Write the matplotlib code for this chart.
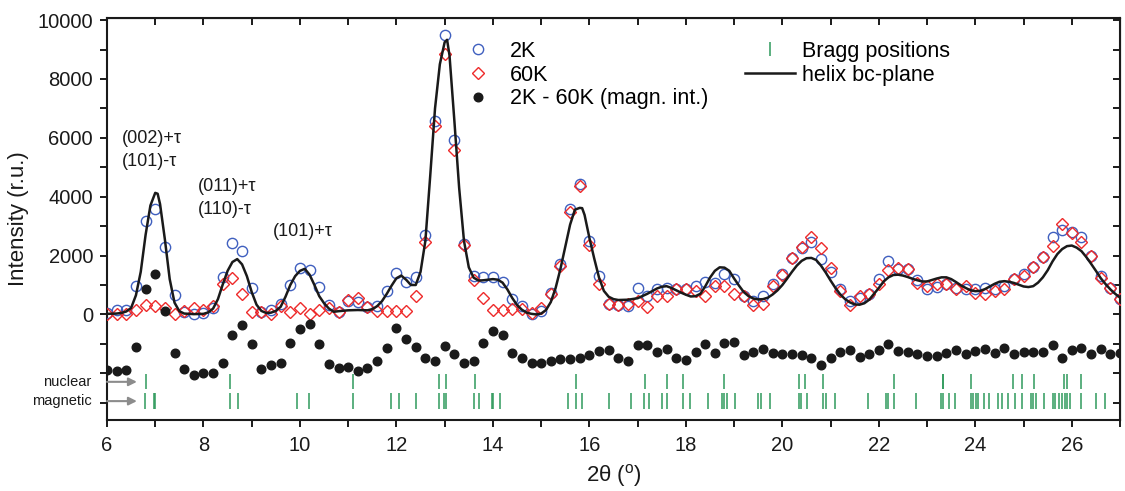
import numpy as np
import matplotlib
matplotlib.use("Agg")
import matplotlib.pyplot as plt
from matplotlib.ticker import MultipleLocator, FuncFormatter
from matplotlib.lines import Line2D
import matplotlib.transforms as mtransforms

plt.rcParams['font.family'] = ['Liberation Sans', 'DejaVu Sans']
plt.rcParams['mathtext.fontset'] = 'custom'
plt.rcParams['mathtext.rm'] = 'Liberation Sans'
plt.rcParams['mathtext.it'] = 'Liberation Sans:italic'

# scan angles, 6 to 27 deg in 0.2 deg steps
two_theta = np.round(np.linspace(6.0, 27.0, 106), 1)

i_2k = [60, 140, 140, 960, 3160, 3580, 2280, 650, 90, 10,
        40, 230, 1270, 2430, 2170, 900, 90, 150, 360, 1000,
        1590, 1500, 940, 320, 80, 470, 430, 240, 300, 780,
        1410, 1100, 1270, 2710, 6580, 9510, 5930, 2380, 1310, 1270,
        1270, 1110, 530, 280, 0, 110, 740, 1700, 3580, 4440,
        2510, 1300, 360, 320, 280, 900, 620, 870, 900, 870,
        850, 960, 1100, 1060, 1390, 1220, 620, 450, 620, 1050,
        1390, 1920, 2260, 2450, 1890, 1440, 850, 450, 570, 680,
        1190, 1830, 1550, 1530, 1160, 860, 940, 1040, 900, 850,
        850, 900, 850, 980, 1210, 1360, 1620, 1960, 2620, 2860,
        2800, 2620, 2000, 1320, 900, 510]

i_60k = [0, 30, 0, 150, 320, 270, 230, 30, 120, 230,
         150, 280, 1050, 1250, 680, 80, 70, 20, 280, 90,
         230, 0, 140, 230, 90, 490, 565, 260, 100, 120,
         120, 120, 630, 2450, 6410, 8850, 5570, 2370, 1170, 550,
         150, 140, 170, 170, 60, 230, 710, 1640, 3480, 4350,
         2350, 1040, 370, 320, 370, 450, 250, 620, 620, 850,
         850, 790, 640, 960, 960, 710, 620, 320, 340, 960,
         1330, 1920, 2280, 2630, 2240, 1580, 790, 320, 620, 680,
         1050, 1500, 1580, 1560, 1070, 960, 1020, 1040, 850, 960,
         740, 680, 790, 850, 1190, 1300, 1620, 1960, 2320, 3070,
         2750, 2450, 1980, 1240, 900, 510]

# magnetic intensity 2K - 60K, shown shifted down
i_magn = [110, 80, 110, 890, 2880, 3380, 2110, 680, 140, -70,
          0, 20, 340, 1300, 1630, 1010, 160, 280, 340, 1040,
          1510, 1660, 980, 310, 190, 220, 80, 190, 420, 870,
          1550, 1180, 900, 510, 420, 930, 670, 360, 420, 1040,
          1440, 1300, 700, 510, 340, 340, 420, 500, 500, 530,
          620, 760, 790, 510, 420, 950, 950, 720, 810, 510,
          450, 730, 980, 680, 1020, 1060, 610, 720, 840, 700,
          670, 670, 620, 510, 280, 530, 720, 780, 570, 670,
          780, 1010, 760, 720, 640, 590, 590, 680, 790, 640,
          760, 840, 700, 850, 640, 730, 720, 730, 960, 510,
          780, 850, 670, 810, 640, 680]
magn_offset = -2000

# calculated profile, helical structure in the bc-plane
calc_x = [6.0, 6.2, 6.3, 6.4, 6.5, 6.6, 6.7, 6.8, 6.9, 7.0, 7.05, 7.1, 7.2, 7.3,
          7.4, 7.5, 7.6, 7.8, 8.0, 8.1, 8.2, 8.3, 8.4, 8.5, 8.6, 8.7, 8.8, 8.9,
          9.0, 9.1, 9.2, 9.3, 9.4, 9.5, 9.6, 9.7, 9.8, 9.9, 10.0, 10.1, 10.2,
          10.3, 10.4, 10.5, 10.6, 10.7, 10.8, 11.0, 11.2, 11.4, 11.5, 11.6, 11.7,
          11.8, 11.9, 12.0, 12.1, 12.2, 12.3, 12.4, 12.5, 12.6, 12.7, 12.8, 12.9,
          13.0, 13.05, 13.1, 13.2, 13.3, 13.4, 13.5, 13.6, 13.7, 13.8, 14.0, 14.1,
          14.2, 14.3, 14.4, 14.5, 14.6, 14.7, 14.8, 14.9, 15.0, 15.1, 15.2, 15.3,
          15.4, 15.5, 15.6, 15.7, 15.8, 15.85, 15.9, 16.0, 16.1, 16.2, 16.3, 16.4,
          16.5, 16.6, 16.8, 17.0, 17.2, 17.4, 17.5, 17.6, 17.7, 17.8, 17.9, 18.0,
          18.1, 18.2, 18.3, 18.4, 18.5, 18.6, 18.7, 18.8, 18.9, 19.0, 19.1, 19.2,
          19.3, 19.4, 19.5, 19.6, 19.7, 19.8, 19.9, 20.0, 20.1, 20.2, 20.3, 20.4,
          20.5, 20.6, 20.7, 20.8, 20.9, 21.0, 21.1, 21.2, 21.3, 21.4, 21.5, 21.6,
          21.7, 21.8, 21.9, 22.0, 22.1, 22.2, 22.3, 22.4, 22.5, 22.6, 22.7, 22.8,
          22.9, 23.0, 23.1, 23.2, 23.3, 23.4, 23.5, 23.6, 23.7, 23.8, 23.9, 24.0,
          24.1, 24.2, 24.3, 24.4, 24.5, 24.6, 24.7, 24.8, 24.9, 25.0, 25.1, 25.2,
          25.3, 25.4, 25.5, 25.6, 25.7, 25.8, 25.9, 26.0, 26.1, 26.2, 26.3, 26.4,
          26.5, 26.6, 26.7, 26.8, 26.9, 27.0]
calc_y = [20, 30, 50, 100, 220, 650, 1450, 2700, 3700, 4130, 4100, 3750, 2550, 1200,
          400, 110, 30, 10, 20, 70, 200, 520, 1020, 1480, 1780, 1880, 1700, 1300,
          760, 330, 120, 50, 60, 120, 260, 600, 1000, 1300, 1480, 1550, 1350,
          1000, 620, 380, 200, 90, 110, 140, 150, 140, 180, 280, 450,
          700, 980, 1230, 1320, 1180, 1000, 1000, 1450, 2500, 4700, 7000, 8500,
          9250, 9330, 8800, 6600, 4300, 2500, 1600, 1250, 1150, 1160, 1200, 1180,
          1080, 850, 560, 320, 160, 60, 20, 0, 30, 150, 420, 900,
          1550, 2300, 3050, 3560, 3620, 3610, 3380, 2600, 1900, 1250, 800, 600,
          520, 490, 500, 550, 700, 880, 940, 960, 900, 820, 740, 670,
          610, 620, 700, 950, 1250, 1480, 1600, 1590, 1480, 1220, 980, 760,
          620, 540, 510, 520, 570, 680, 820, 1000, 1220, 1450, 1660, 1820,
          1910, 1920, 1850, 1660, 1420, 1150, 900, 680, 520, 410, 340, 330,
          380, 500, 700, 900, 1120, 1260, 1340, 1350, 1320, 1270, 1210, 1160,
          1120, 1120, 1170, 1220, 1260, 1260, 1200, 1100, 990, 900, 820, 790,
          800, 860, 950, 1040, 1110, 1130, 1110, 1070, 1010, 950, 930, 960,
          1080, 1260, 1500, 1800, 2050, 2220, 2320, 2340, 2270, 2150, 1950, 1720,
          1480, 1230, 1030, 850, 700, 570]

# Bragg reflection positions
bragg_nuclear = [6.80, 8.55, 11.10, 12.88, 13.02, 13.62, 15.73, 17.15, 17.60, 17.94,
                 18.78, 20.35, 20.47, 20.85, 22.31, 23.32, 23.34, 23.92, 24.79, 24.96,
                 25.22, 25.83, 25.91, 26.20]
bragg_magnetic = [6.78, 6.97, 7.00, 8.55, 8.72, 9.94, 10.18, 11.10, 11.88, 12.05,
                  12.40, 12.88, 12.99, 13.02, 13.60, 13.71, 13.98, 14.01, 14.15, 15.55,
                  15.73, 15.84, 16.41, 16.87, 17.14, 17.23, 17.50, 17.60, 17.94, 18.08,
                  18.45, 18.75, 18.79, 18.85, 19.02, 19.50, 19.55, 19.75, 20.35, 20.39,
                  20.51, 20.85, 20.91, 21.10, 21.77, 22.15, 22.19, 22.31, 22.77, 23.29,
                  23.33, 23.45, 23.58, 23.92, 23.96, 24.01, 24.06, 24.18, 24.29, 24.48,
                  24.56, 24.68, 24.83, 24.97, 25.16, 25.20, 25.25, 25.42, 25.60, 25.66,
                  25.73, 25.79, 25.85, 25.91, 25.97, 26.20, 26.51, 26.68]

peak_labels = ["(002)+\u03c4\n(101)-\u03c4", "(011)+\u03c4\n(110)-\u03c4", "(101)+\u03c4"]
peak_label_pos = [(6.30, 5580), (7.89, 3950), (9.43, 2820)]

blue = '#3f5fbf'
red = '#ee2a2a'
green = '#2f9a5c'
dark = '#1a1a1a'

fig = plt.figure(figsize=(11.25, 4.91), dpi=100)
ax = fig.add_axes([0.0951, 0.1450, 0.9005, 0.8183])

ax.plot(two_theta, i_2k, 'o', ms=7.4, mfc='none', mec=blue, mew=1.0, label='2K', zorder=3)
ax.plot(two_theta, i_60k, 'D', ms=6.3, mfc='none', mec=red, mew=1.0, label='60K', zorder=3)
ax.plot(two_theta, np.array(i_magn) + magn_offset, 'o', ms=6.2, color=dark, mec=dark,
        label='2K - 60K (magn. int.)', zorder=3)
ax.plot(calc_x, calc_y, '-', color=dark, lw=1.8, zorder=4)

nuc_row = (-2550, -2030)
mag_row = (-3220, -2670)
ax.vlines(bragg_nuclear, *nuc_row, color=green, lw=1.1)
ax.vlines(bragg_magnetic, *mag_row, color=green, lw=1.1)

# row labels with arrows pointing at the tick rows
trans = mtransforms.blended_transform_factory(ax.transAxes, ax.transData)
for name, row in (("nuclear", nuc_row), ("magnetic", mag_row)):
    yc = sum(row) / 2
    ax.text(-0.015, yc, name, transform=trans, ha='right', va='center', fontsize=10.5,
            color=dark, clip_on=False)
    ax.annotate('', xy=(6.62, yc), xytext=(6.0, yc),
                arrowprops=dict(arrowstyle='-|>', color='#8c8c8c', lw=1.5,
                                mutation_scale=12, shrinkA=0, shrinkB=0))

for text, (x, y) in zip(peak_labels, peak_label_pos):
    ax.text(x, y, text, fontsize=13, ha='left', va='center', linespacing=1.45, color=dark)

ax.set_xlim(6, 27)
ax.set_ylim(-3580, 10070)
ax.xaxis.set_major_locator(MultipleLocator(2))
ax.xaxis.set_minor_locator(MultipleLocator(1))
ax.yaxis.set_major_locator(MultipleLocator(2000))
ax.yaxis.set_minor_locator(MultipleLocator(1000))
ax.yaxis.set_major_formatter(FuncFormatter(lambda v, p: f"{v:.0f}" if v >= 0 else ""))

ax.tick_params(which='both', direction='out', length=5, width=1.4, color=dark,
               labelsize=14.5, labelcolor=dark)
ax.tick_params(axis='x', pad=7)
ax.tick_params(axis='y', pad=5)
for s in ax.spines.values():
    s.set_linewidth(1.5)
    s.set_color(dark)

top = ax.secondary_xaxis('top')
top.xaxis.set_major_locator(MultipleLocator(1))
top.tick_params(direction='in', length=5, width=1.4, color=dark, labeltop=False)
right = ax.secondary_yaxis('right')
right.yaxis.set_major_locator(MultipleLocator(1000))
right.tick_params(direction='in', length=5, width=1.4, color=dark, labelright=False)

ax.set_xlabel(r'2$\mathrm{\theta}$ ($^{\mathrm{o}}$)', fontsize=16, color=dark, labelpad=5)
ax.set_ylabel('Intensity (r.u.)', fontsize=16, color=dark, labelpad=6)

h = ax.get_legend_handles_labels()[0]
leg1 = ax.legend(handles=h[:3], loc='upper left', bbox_to_anchor=(0.3416, 0.943),
                 frameon=False, fontsize=15.5, borderpad=0, borderaxespad=0,
                 handlelength=2.3, handletextpad=0.35, labelspacing=0.12)
ax.add_artist(leg1)
h2 = [Line2D([], [], ls='none', marker='|', ms=10, mew=1.1, color=green),
      Line2D([], [], color=dark, lw=1.8)]
ax.legend(handles=h2, labels=['Bragg positions', 'helix bc-plane'], loc='upper left',
          bbox_to_anchor=(0.6298, 0.943), frameon=False, fontsize=15.5, borderpad=0,
          borderaxespad=0, handlelength=2.3, handletextpad=0.35, labelspacing=0.12)

fig.savefig('out.png', dpi=100)
